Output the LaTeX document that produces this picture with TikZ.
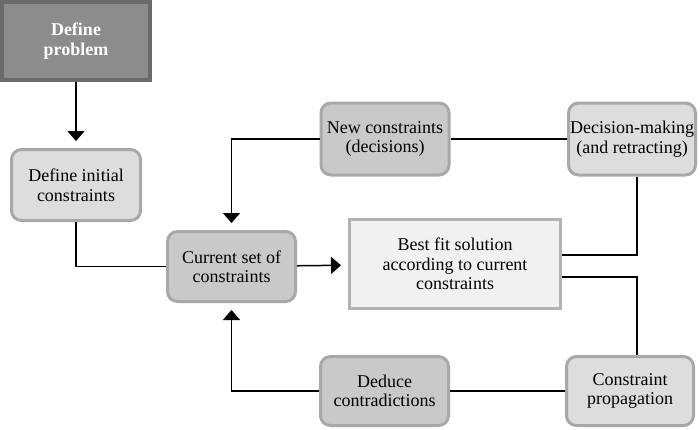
\documentclass[tikz,border=0pt]{standalone}
\usepackage{fontspec}
\setmainfont{Liberation Serif}[BoldFont={Liberation Serif Bold}]
\usetikzlibrary{arrows.meta}
\definecolor{probfill}{HTML}{8C8C8C}
\definecolor{probborder}{HTML}{6A6A6A}
\definecolor{lightfill}{HTML}{DDDDDD}
\definecolor{darkfill}{HTML}{C9C9C9}
\definecolor{boxborder}{HTML}{A8A8A8}
\definecolor{bestfill}{HTML}{F1F1F1}
\definecolor{bestborder}{HTML}{B2B2B2}
\begin{document}
\begin{tikzpicture}[x=1pt,y=-1pt,
  basebox/.style={line width=3pt,align=center,inner sep=0pt,
    font=\rmfamily\fontsize{18}{19.5}\selectfont,text=black},
  box/.style={basebox,draw=boxborder,rounded corners=10pt},
  lightbox/.style={box,fill=lightfill},
  darkbox/.style={box,fill=darkfill},
  conn/.style={line width=1.5pt,black},
  arr/.style={conn,-{Triangle[width=17pt,length=10pt]},shorten >=7pt}]
\useasboundingbox (0,0) rectangle (700,429);

\node[basebox,draw=probborder,fill=probfill,line width=4pt,text=white,
  font=\rmfamily\fontsize{18}{19.5}\selectfont\bfseries,
  minimum width=148pt,minimum height=78pt] (prob) at (76,41) {Define\\problem};
\node[lightbox,minimum width=129pt,minimum height=71pt] (init) at (76,185) {Define initial\\constraints};
\node[darkbox,minimum width=128pt,minimum height=70pt] (cur) at (231.5,266.5) {Current set of\\constraints};
\node[basebox,draw=bestborder,fill=bestfill,minimum width=211pt,minimum height=89pt] (best) at (455,264) {Best fit solution\\according to current\\constraints};
\node[darkbox,minimum width=128pt,minimum height=72pt] (new) at (385,139) {New constraints\\(decisions)};
\node[lightbox,minimum width=127pt,minimum height=72pt] (dec) at (632,139) {Decision-making\\(and retracting)};
\node[darkbox,minimum width=128pt,minimum height=69pt] (ded) at (384.5,391) {Deduce\\contradictions};
\node[lightbox,minimum width=127pt,minimum height=69pt] (prop) at (630,391) {Constraint\\propagation};
\coordinate (vx) at (637,0);

\draw[arr] (prob) -- (init);
\draw[conn] (init.south) |- (cur.west);
\draw[arr] (cur) -- (best);
\draw[arr] (new.west) -| (cur.north);
\draw[conn] (new) -- (dec);
\draw[conn] (dec.south -| vx) |- ([yshift=9pt]best.east);
\draw[conn] ([yshift=-13pt]best.east) -| (prop.north -| vx);
\draw[conn] (prop) -- (ded);
\draw[arr] (ded.west) -| (cur.south);
\end{tikzpicture}
\end{document}
